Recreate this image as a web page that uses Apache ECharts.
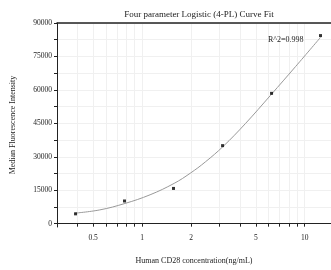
<!DOCTYPE html>
<html>
<head>
<meta charset="utf-8">
<script src="https://cdn.jsdelivr.net/npm/echarts@6/dist/echarts.min.js"></script>
<style>
    html, body { margin: 0; padding: 0; background: #fff; }
    #chart { width: 331px; height: 270px; }
</style>
</head>
<body>
<div id="chart"></div>
<script>
// measured points (ng/mL, MFI)
const concentrations = [0.39, 0.78, 1.56, 3.125, 6.25, 12.5];
const intensities = [4400, 10170, 15800, 35000, 58450, 84350];

// fitted curve
const curveX = [0.386, 0.55, 0.785, 1.12, 1.575, 1.977, 2.447, 3.145, 4.32, 6.16, 8.8, 12.5];
const curveY = [4710, 6170, 9060, 12950, 18080, 22610, 27670, 34600, 44900, 57570, 70540, 83550];

const xLabels = [0.5, 1, 2, 5, 10];
const xTicks = [0.4, 0.5, 0.6, 0.7, 0.8, 0.9, 1, 2, 3, 4, 5, 6, 7, 8, 9, 10];
const yLabels = [0, 15000, 30000, 45000, 60000, 75000, 90000];
const yTicks = [0, 7500, 15000, 22500, 30000, 37500, 45000, 52500, 60000, 67500, 75000, 82500, 90000];

const FONT = 'Liberation Serif';
const AXIS_COLOR = '#222';
const GRID_COLOR = '#f0f0f0';

const chart = echarts.init(document.getElementById('chart'));

chart.setOption({
    animation: false,
    textStyle: { fontFamily: FONT },
    title: {
        text: 'Four parameter Logistic (4-PL) Curve Fit',
        left: 194,
        top: 5,
        textAlign: 'center',
        textStyle: { fontFamily: FONT, fontSize: 9, fontWeight: 'normal', color: '#222' }
    },
    grid: { left: 57, top: 23, right: 0, bottom: 41 },
    xAxis: [
        {
            type: 'log',
            min: 0.3,
            max: 14.5,
            name: 'Human CD28 concentration(ng/mL)',
            nameLocation: 'middle',
            nameGap: 30,
            nameTextStyle: { fontFamily: FONT, fontSize: 8, color: '#222' },
            axisLine: { show: true, lineStyle: { color: AXIS_COLOR, width: 1 } },
            axisTick: { show: true, length: 3, customValues: xTicks, lineStyle: { color: AXIS_COLOR } },
            axisLabel: {
                customValues: xLabels,
                fontFamily: FONT, fontSize: 7.5, color: '#222', margin: 7
            },
            splitLine: { show: true, lineStyle: { color: GRID_COLOR, width: 1 } }
        },
        {
            type: 'log',
            position: 'top',
            min: 0.3,
            max: 14.5,
            axisLine: { show: true, lineStyle: { color: AXIS_COLOR, width: 1.5 } },
            axisTick: { show: false },
            axisLabel: { show: false },
            splitLine: { show: false }
        }
    ],
    yAxis: {
        type: 'value',
        min: -1500,
        max: 90000,
        name: 'Median Fluorescence Intensity',
        nameLocation: 'middle',
        nameGap: 40,
        nameTextStyle: { fontFamily: FONT, fontSize: 8, color: '#222' },
        axisLine: { show: true, lineStyle: { color: AXIS_COLOR, width: 1 } },
        axisTick: { show: true, length: 3, customValues: yTicks, lineStyle: { color: AXIS_COLOR } },
        axisLabel: {
            customValues: yLabels,
            formatter: v => String(v),
            fontFamily: FONT, fontSize: 7.5, color: '#222', margin: 5
        },
        splitLine: { show: true, lineStyle: { color: GRID_COLOR, width: 1 } }
    },
    graphic: [
        {
            type: 'text',
            left: 268,
            top: 36,
            z: 10,
            style: { text: 'R^2=0.998', font: '8px "Liberation Serif"', fill: '#222' }
        }
    ],
    series: [
        {
            type: 'line',
            data: curveX.map((x, i) => [x, curveY[i]]),
            smooth: 0.4,
            showSymbol: false,
            lineStyle: { color: '#999', width: 1 },
            z: 2
        },
        {
            type: 'scatter',
            data: concentrations.map((x, i) => [x, intensities[i]]),
            symbol: 'rect',
            symbolSize: 3,
            itemStyle: { color: '#000' },
            z: 3
        }
    ]
});
</script>
</body>
</html>
